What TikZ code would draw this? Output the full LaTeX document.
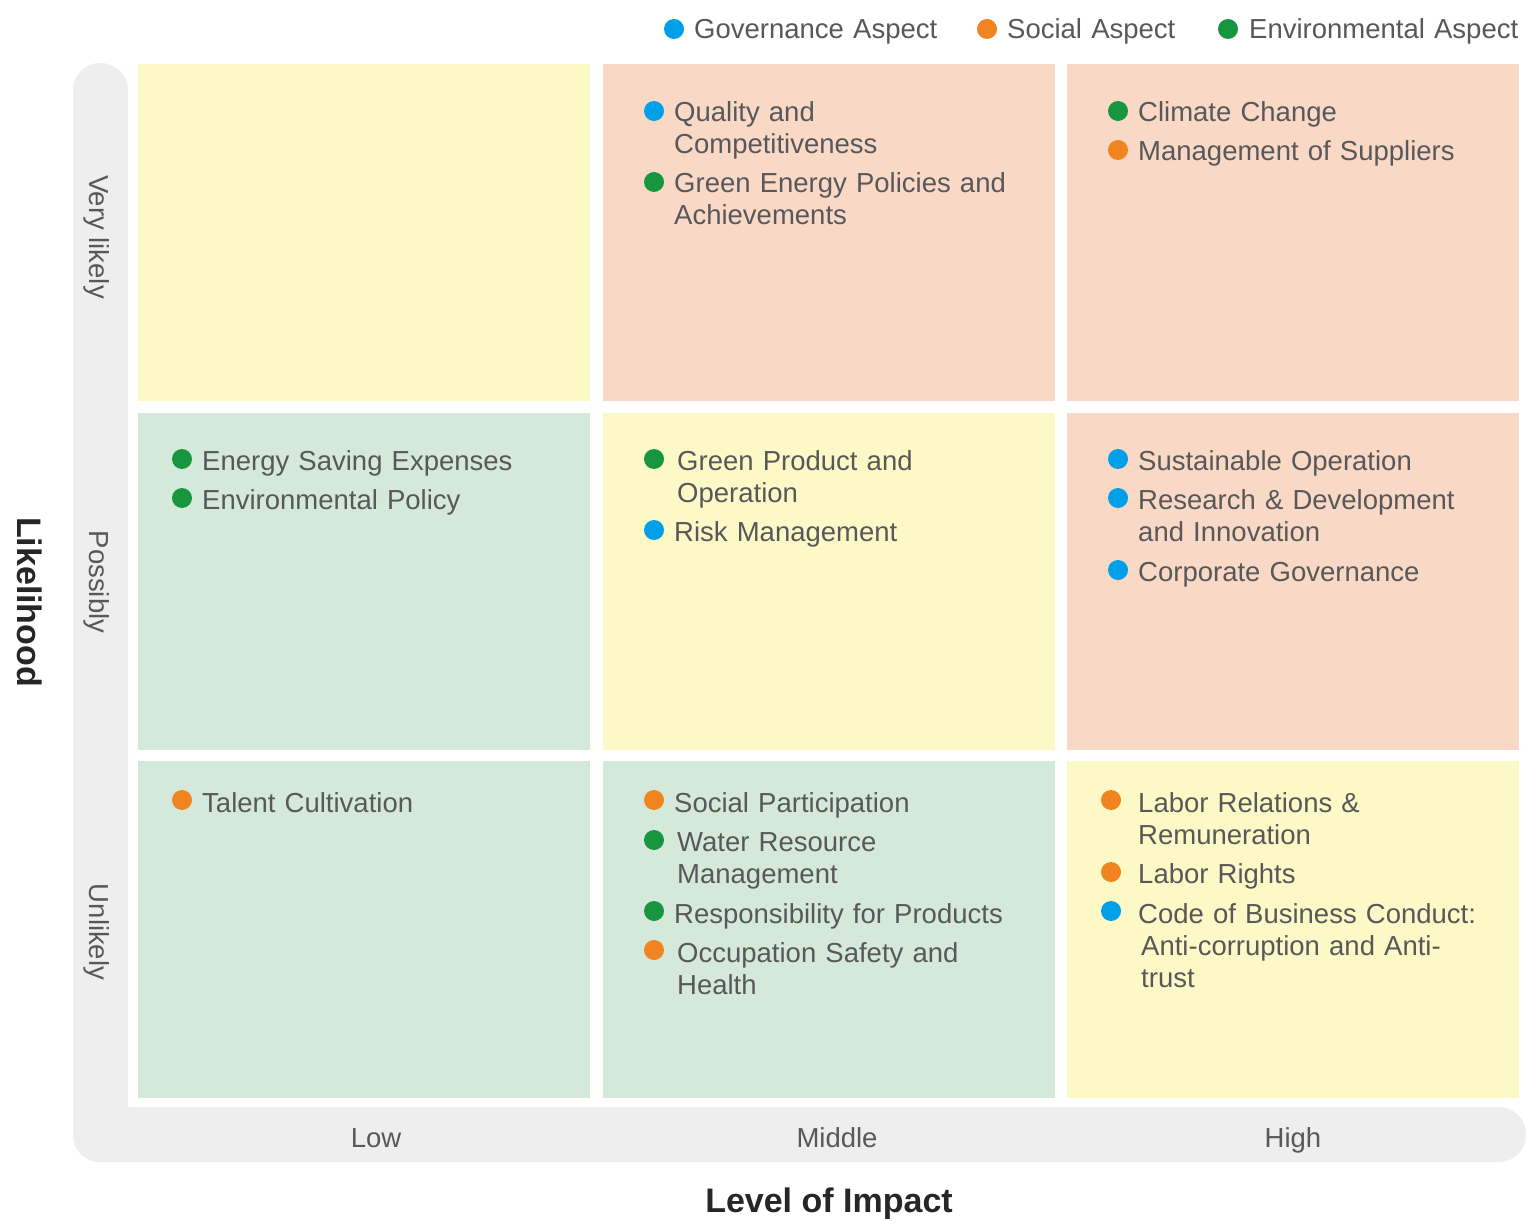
\documentclass[tikz,border=0pt]{standalone}
\usepackage{fontspec}
\setmainfont{Liberation Sans}
\usetikzlibrary{positioning}

\definecolor{cellyellow}{HTML}{FDF9C7}
\definecolor{cellpeach}{HTML}{F9D9C6}
\definecolor{cellgreen}{HTML}{D5E9DB}
\definecolor{axisgray}{HTML}{EEEEEE}
\definecolor{govblue}{HTML}{00A0E9}
\definecolor{socorange}{HTML}{F08421}
\definecolor{envgreen}{HTML}{18963F}
\definecolor{textgray}{HTML}{58585A}

\begin{document}
\begin{tikzpicture}[
    x=1pt, y=-1pt,
    cell/.style={rectangle, minimum width=452pt, minimum height=337pt, inner sep=0, outer sep=0, anchor=north west},
    dot/.style={circle, fill=#1, minimum size=20pt, inner sep=0},
    topic/.style={anchor=base west, text width=375pt, align=left, inner sep=0, text=textgray, font=\fontsize{27.5}{32}\selectfont},
    axislabel/.style={text=textgray, font=\fontsize{27.5}{32}\selectfont},
    axistitle/.style={text=black!85, font=\fontsize{34}{40}\selectfont\bfseries}
]
\useasboundingbox (0,0) rectangle (1526,1222);

% Axis band
\fill[axisgray, rounded corners=27pt] (73,63) rectangle (128,1162);
\fill[axisgray, rounded corners=27pt] (73,1107) rectangle (1526,1162);

% Cells
\node[cell, fill=cellyellow] (c11) at (138,64) {};
\node[cell, fill=cellpeach]  (c12) at (603,64) {};
\node[cell, fill=cellpeach]  (c13) at (1067,64) {};
\node[cell, fill=cellgreen]  (c21) at (138,413) {};
\node[cell, fill=cellyellow] (c22) at (603,413) {};
\node[cell, fill=cellpeach]  (c23) at (1067,413) {};
\node[cell, fill=cellgreen]  (c31) at (138,761) {};
\node[cell, fill=cellgreen]  (c32) at (603,761) {};
\node[cell, fill=cellyellow] (c33) at (1067,761) {};

% Legend
\node[dot=govblue]   (lgov) at (674,29) {};
\node[topic] (lgovtext) at (694,39) {Governance Aspect};
\node[dot=socorange] (lsoc) at (987,29) {};
\node[topic] (lsoctext) at (1007,39) {Social Aspect};
\node[dot=envgreen]  (lenv) at (1228,29) {};
\node[topic] (lenvtext) at (1249,39) {Environmental Aspect};

% Very likely / Middle
\node[dot=govblue]  (dquality) at (654,111) {};
\node[topic] (quality) at (674,122) {Quality and\\Competitiveness};
\node[dot=envgreen] (dgreenenergy) at (654,182) {};
\node[topic] (greenenergy) at (674,193) {Green Energy Policies and\\Achievements};

% Very likely / High
\node[dot=envgreen]  (dclimate) at (1118,111) {};
\node[topic] (climate) at (1138,122) {Climate Change};
\node[dot=socorange] (dsuppliers) at (1118,150) {};
\node[topic] (suppliers) at (1138,161) {Management of Suppliers};

% Possibly / Low
\node[dot=envgreen] (dsaving) at (182,459) {};
\node[topic] (saving) at (202,470) {Energy Saving Expenses};
\node[dot=envgreen] (dpolicy) at (182,498) {};
\node[topic] (policy) at (202,509) {Environmental Policy};

% Possibly / Middle
\node[dot=envgreen] (dgreenproduct) at (654,459) {};
\node[topic] (greenproduct) at (677,470) {Green Product and\\Operation};
\node[dot=govblue]  (drisk) at (654,530) {};
\node[topic] (risk) at (674,541) {Risk Management};

% Possibly / High
\node[dot=govblue] (dsustain) at (1118,459) {};
\node[topic] (sustain) at (1138,470) {Sustainable Operation};
\node[dot=govblue] (dresearch) at (1118,498) {};
\node[topic] (research) at (1138,509) {Research \& Development\\and Innovation};
\node[dot=govblue] (dcorporate) at (1118,570) {};
\node[topic] (corporate) at (1138,581) {Corporate Governance};

% Unlikely / Low
\node[dot=socorange] (dtalent) at (182,800) {};
\node[topic] (talent) at (202,812) {Talent Cultivation};

% Unlikely / Middle
\node[dot=socorange] (dsocial) at (654,800) {};
\node[topic] (social) at (674,812) {Social Participation};
\node[dot=envgreen]  (dwater) at (654,840) {};
\node[topic] (water) at (677,851) {Water Resource\\Management};
\node[dot=envgreen]  (dproducts) at (654,911) {};
\node[topic] (products) at (674,923) {Responsibility for Products};
\node[dot=socorange] (dsafety) at (654,950) {};
\node[topic] (safety) at (677,962) {Occupation Safety and\\Health};

% Unlikely / High
\node[dot=socorange] (drelations) at (1111,800) {};
\node[topic] (relations) at (1138,812) {Labor Relations \&\\Remuneration};
\node[dot=socorange] (drights) at (1111,872) {};
\node[topic] (rights) at (1138,883) {Labor Rights};
\node[dot=govblue]   (dconduct) at (1111,911) {};
\node[topic] (conduct) at (1138,923) {Code of Business Conduct:\\\hspace*{3pt}Anti-corruption and Anti-\\\hspace*{3pt}trust};

% Axis labels
\node[axislabel, rotate=-90] (verylikely) at (97,237) {Very likely};
\node[axislabel, rotate=-90] (possibly) at (97,582) {Possibly};
\node[axislabel, rotate=-90] (unlikely) at (97,932) {Unlikely};
\node[axislabel, anchor=base] (low) at (376,1147) {Low};
\node[axislabel, anchor=base] (middle) at (837,1147) {Middle};
\node[axislabel, anchor=base] (high) at (1293,1147) {High};
\node[axistitle, rotate=-90] (likelihood) at (30,602) {Likelihood};
\node[axistitle] (impact) at (829,1204) {Level of Impact};

\end{tikzpicture}
\end{document}
